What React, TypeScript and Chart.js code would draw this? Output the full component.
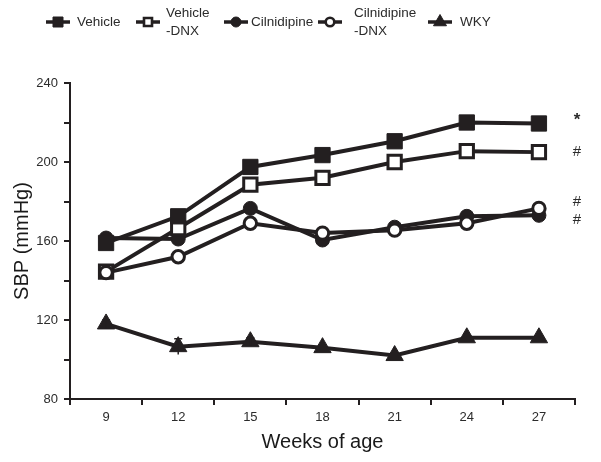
import React, { useEffect, useRef } from "react";
import { Chart, registerables } from "chart.js";

Chart.register(...registerables);

// ---------- data ----------
const weeks = ["9", "12", "15", "18", "21", "24", "27"];
const vehicle = [159, 172.5, 197.5, 203.5, 210.5, 220, 219.5];
const vehicleDNX = [144.5, 166.5, 188.5, 192, 200, 205.5, 205];
const cilnidipine = [161.5, 161, 176.5, 160.5, 167, 172.5, 173];
const cilnidipineDNX = [144, 152, 169, 164, 165.5, 169, 176.5];
const wky = [118, 106.5, 109, 106, 102, 111, 111];
const wkyErr = [2, 4, 2, 0, 0, 0, 0];

const seriesNames = ["Vehicle", "Vehicle-DNX", "Cilnidipine", "Cilnidipine-DNX", "WKY"];
const legendLines = [["Vehicle"], ["Vehicle", "-DNX"], ["Cilnidipine"], ["Cilnidipine", "-DNX"], ["WKY"]];

const yMin = 80;
const yMax = 240;
const yStep = 20;
const yLabelStep = 40;

const xTitle = "Weeks of age";
const yTitle = "SBP (mmHg)";

// significance marks placed at the right of the last week (value in mmHg)
const marks = ["*", "#", "#", "#"];
const markValues = [222.5, 205, 180, 170.5];

// ---------- style ----------
const INK = "#231f20";
const TEXT = "#2b2b2b";
const REG = "'Liberation Sans', Arial, Helvetica, sans-serif";

type Shape = "rect" | "circle" | "triangle";
const shapes: Shape[] = ["rect", "rect", "circle", "circle", "triangle"];
const filled = [true, false, true, false, true];

function drawShape(ctx: CanvasRenderingContext2D, shape: Shape, x: number, y: number, s: number, fill: boolean, bw: number) {
  ctx.beginPath();
  if (shape === "rect") {
    ctx.rect(x - s, y - s, 2 * s, 2 * s);
  } else if (shape === "circle") {
    ctx.arc(x, y, s, 0, Math.PI * 2);
  } else {
    ctx.moveTo(x, y - s);
    ctx.lineTo(x + s * 0.866, y + s * 0.5);
    ctx.lineTo(x - s * 0.866, y + s * 0.5);
    ctx.closePath();
  }
  ctx.fillStyle = fill ? INK : "#ffffff";
  ctx.fill();
  ctx.lineWidth = bw;
  ctx.strokeStyle = INK;
  ctx.stroke();
}

const legendPlugin = {
  id: "customLegend",
  afterDraw(chart: any) {
    const ctx: CanvasRenderingContext2D = chart.ctx;
    const markerX = [58, 148, 236, 330, 440];
    const textX = [77, 166, 251, 354, 460];
    const cy = 22;
    ctx.save();
    legendLines.forEach((lines, i) => {
      ctx.beginPath();
      ctx.moveTo(markerX[i] - 12, cy);
      ctx.lineTo(markerX[i] + 12, cy);
      ctx.lineWidth = 3.5;
      ctx.strokeStyle = INK;
      ctx.stroke();
      const shp = shapes[i];
      const size = shp === "rect" ? (filled[i] ? 5 : 4) : shp === "circle" ? (filled[i] ? 5 : 4.3) : 7.5;
      drawShape(ctx, shp, markerX[i], cy, size, filled[i], filled[i] ? 1 : 2.6);
      ctx.fillStyle = TEXT;
      ctx.font = `13.5px ${REG}`;
      ctx.textBaseline = "middle";
      ctx.textAlign = "left";
      if (lines.length === 1) {
        ctx.fillText(lines[0], textX[i], cy);
      } else {
        ctx.fillText(lines[0], textX[i], cy - 9);
        ctx.fillText(lines[1], textX[i], cy + 9);
      }
    });
    ctx.restore();
  },
};

const extrasPlugin = {
  id: "extras",
  afterDatasetsDraw(chart: any) {
    const ctx: CanvasRenderingContext2D = chart.ctx;
    const xs = chart.scales.x;
    const ys = chart.scales.y;
    ctx.save();
    // error bars for WKY
    ctx.strokeStyle = INK;
    ctx.lineWidth = 1.5;
    wky.forEach((v, i) => {
      const e = wkyErr[i];
      if (!e) return;
      const x = xs.getPixelForValue(i);
      const top = ys.getPixelForValue(v + e);
      const bot = ys.getPixelForValue(v - e);
      ctx.beginPath();
      ctx.moveTo(x, top);
      ctx.lineTo(x, bot);
      ctx.moveTo(x - 4, top);
      ctx.lineTo(x + 4, top);
      ctx.stroke();
    });
    // significance marks
    ctx.fillStyle = TEXT;
    ctx.textAlign = "center";
    ctx.textBaseline = "middle";
    const mx = chart.chartArea.right + 2;
    marks.forEach((m, i) => {
      ctx.font = m === "*" ? `bold 17px ${REG}` : `15px ${REG}`;
      ctx.fillText(m, mx, ys.getPixelForValue(markValues[i]) + (m === "*" ? 3 : 0));
    });
    ctx.restore();
  },
};

export default function App() {
  const ref = useRef<HTMLCanvasElement | null>(null);

  useEffect(() => {
    if (!ref.current) return;
    const values = [vehicle, vehicleDNX, cilnidipine, cilnidipineDNX, wky];
    const radius = [10.8, 9.4, 7, 6.2, 10];
    const order = [1, 2, 3, 0, 4];
    const datasets = values.map((data, i) => ({
      label: seriesNames[i],
      data,
      borderColor: INK,
      borderWidth: 4,
      tension: 0,
      pointStyle: shapes[i],
      pointRadius: radius[i],
      pointHoverRadius: radius[i],
      pointBackgroundColor: filled[i] ? INK : "#ffffff",
      pointBorderColor: INK,
      pointBorderWidth: filled[i] ? 1 : 3,
      order: order[i],
      clip: false as any,
    }));

    const chart = new Chart(ref.current, {
      type: "line",
      data: { labels: weeks, datasets },
      options: {
        animation: false,
        responsive: false,
        events: [],
        layout: { padding: { top: 83, right: 26, bottom: 0, left: 0 } },
        plugins: {
          legend: { display: false },
          tooltip: { enabled: false },
        },
        scales: {
          x: {
            type: "category",
            offset: true,
            grid: {
              offset: true,
              drawOnChartArea: false,
              drawTicks: true,
              tickLength: 6,
              color: INK,
              lineWidth: 2,
            },
            border: { color: INK, width: 2 },
            ticks: { color: TEXT, font: { family: REG, size: 13 }, padding: 5, maxRotation: 0 },
            title: {
              display: true,
              text: xTitle,
              color: "#1a1a1a",
              font: { family: REG, size: 20 },
              padding: { top: 0, bottom: 8 },
            },
            afterFit: (s: any) => {
              s.height = 63;
            },
          },
          y: {
            min: yMin,
            max: yMax,
            grid: {
              drawOnChartArea: false,
              drawTicks: true,
              tickLength: 6,
              color: INK,
              lineWidth: 2,
            },
            border: { color: INK, width: 2 },
            ticks: {
              stepSize: yStep,
              color: TEXT,
              font: { family: REG, size: 13 },
              padding: 6,
              callback: (v: any) => (Number(v) % yLabelStep === 0 ? String(v) : ""),
            },
            title: {
              display: true,
              text: yTitle,
              color: "#1a1a1a",
              font: { family: REG, size: 20 },
              padding: { top: 10, bottom: 0 },
            },
            afterFit: (s: any) => {
              s.width = 70;
            },
          },
        },
      },
      plugins: [legendPlugin, extrasPlugin],
    });
    return () => chart.destroy();
  }, []);

  return (
    <div style={{ position: "fixed", left: 0, top: 0, width: 601, height: 462, background: "#fff" }}>
      <canvas ref={ref} width={601} height={462} style={{ display: "block" }} />
    </div>
  );
}
